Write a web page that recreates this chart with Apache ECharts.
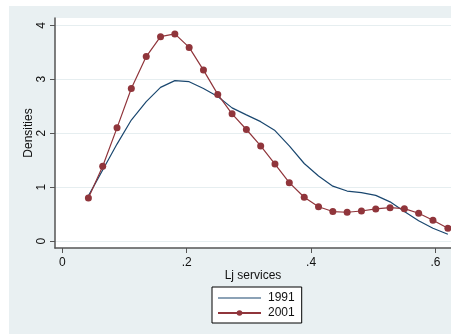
<!DOCTYPE html>
<html>
<head>
<meta charset="utf-8">
<script src="https://cdn.jsdelivr.net/npm/echarts@6/dist/echarts.min.js"></script>
<style>
html,body{margin:0;padding:0;background:#fff;}
#chart{width:451px;height:334px;}
</style>
</head>
<body>
<div id="chart"></div>
<script>
var xValues = [0.042, 0.065, 0.088, 0.111, 0.135, 0.158, 0.181, 0.204, 0.227, 0.250, 0.273, 0.296, 0.319, 0.342, 0.365, 0.389, 0.412, 0.435, 0.458, 0.481, 0.504, 0.527, 0.550, 0.573, 0.596, 0.620];
var y1991 = [0.84, 1.32, 1.80, 2.245, 2.585, 2.85, 2.975, 2.955, 2.83, 2.68, 2.47, 2.34, 2.215, 2.05, 1.765, 1.44, 1.21, 1.02, 0.93, 0.90, 0.85, 0.73, 0.55, 0.38, 0.24, 0.13];
var y2001 = [0.80, 1.39, 2.10, 2.83, 3.42, 3.79, 3.84, 3.59, 3.17, 2.72, 2.36, 2.07, 1.765, 1.43, 1.085, 0.815, 0.64, 0.55, 0.537, 0.56, 0.598, 0.622, 0.604, 0.518, 0.39, 0.24];
var xTicks = [0, 0.2, 0.4, 0.6];
var xTickLabels = ['0', '.2', '.4', '.6'];
var yTicks = [0, 1, 2, 3, 4];
var seriesNames = ['1991', '2001'];

function pairs(ys){ return xValues.map(function(x,i){ return [x, ys[i]]; }); }

var chart = echarts.init(document.getElementById('chart'), null, {renderer:'canvas'});
var textColor = '#111';
var font = 'Liberation Sans, Arial, sans-serif';
chart.setOption({
  animation: false,
  backgroundColor: '#ffffff',
  graphic: [{
    type: 'rect', z: -10, silent: true,
    shape: {x: 9, y: 6, width: 460, height: 340},
    style: {fill: '#e9f0f2'}
  }],
  grid: {
    left: 55, top: 18, right: 0, bottom: 86,
    show: true, backgroundColor: '#ffffff', borderWidth: 0
  },
  xAxis: {
    type: 'value', min: -0.0117, max: 0.625,
    name: 'Lj services', nameLocation: 'middle', nameGap: 21.5, nameMoveOverlap: false,
    nameTextStyle: {color: textColor, fontSize: 12, fontFamily: font},
    axisLine: {show: true, onZero: false, lineStyle: {color: '#555', width: 1.5}},
    axisTick: {show: true, customValues: xTicks, length: 5, lineStyle: {color: '#555', width: 1}},
    axisLabel: {
      customValues: xTicks, margin: 8.5, color: textColor, fontSize: 12, fontFamily: font,
      formatter: function(v){ var i = xTicks.indexOf(v); return i >= 0 ? xTickLabels[i] : ''; }
    },
    splitLine: {show: false}
  },
  yAxis: {
    type: 'value', min: -0.125, max: 4.135,
    name: 'Densities', nameLocation: 'middle', nameGap: 20, nameRotate: 90, nameMoveOverlap: false,
    nameTextStyle: {color: textColor, fontSize: 12, fontFamily: font},
    axisLine: {show: true, onZero: false, lineStyle: {color: '#555', width: 1.5}},
    axisTick: {show: true, customValues: yTicks, length: 5, lineStyle: {color: '#555', width: 1}},
    axisLabel: {
      customValues: yTicks, rotate: 90, margin: 7, color: textColor, fontSize: 12, fontFamily: font,
      formatter: function(v){ return String(v); }
    },
    splitLine: {show: false}
  },
  legend: {
    left: 212, top: 287, orient: 'vertical',
    backgroundColor: '#ffffff', borderColor: '#000', borderWidth: 1, borderRadius: 0,
    padding: [5, 7, 4, 5], itemWidth: 43, itemHeight: 7, itemGap: 3,
    textStyle: {color: textColor, fontSize: 12, fontFamily: font, padding: [0,0,0,2]},
    data: [
      {name: seriesNames[0], icon: 'path://M0 0H43V1.2H0Z'},
      {name: seriesNames[1]}
    ]
  },
  series: [{
    name: seriesNames[0], type: 'line', data: pairs(y1991),
    symbol: 'none', showSymbol: false,
    lineStyle: {color: '#1a476f', width: 1.2},
    itemStyle: {color: '#1a476f'},
    markLine: {
      silent: true, symbol: 'none', label: {show: false}, z: 0,
      lineStyle: {color: '#e6eef0', width: 1, type: 'solid'},
      data: yTicks.map(function(v){ return {yAxis: v}; })
    },
    z: 3
  }, {
    name: seriesNames[1], type: 'line', data: pairs(y2001),
    symbol: 'circle', symbolSize: 7, showSymbol: true,
    lineStyle: {color: '#90353b', width: 1.2},
    itemStyle: {color: '#90353b'},
    z: 4
  }]
});
</script>
</body>
</html>
